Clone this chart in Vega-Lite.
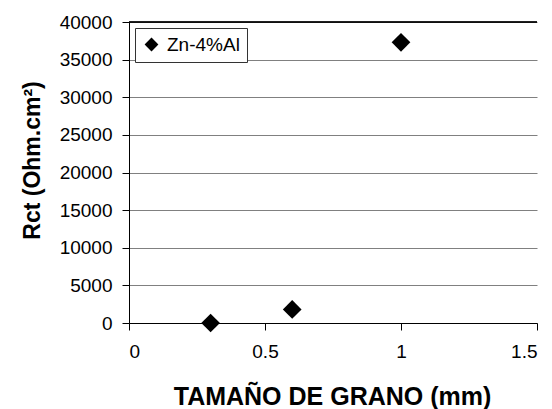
{
  "$schema": "https://vega.github.io/schema/vega-lite/v6.json",
  "width": 408,
  "height": 301,
  "autosize": {"type": "none"},
  "padding": {"left": 129, "top": 22, "right": 15, "bottom": 86},
  "background": "white",
  "config": {
    "view": {"stroke": null},
    "font": "Liberation Sans",
    "axisY": {
      "values": [0, 5000, 10000, 15000, 20000, 25000, 30000, 35000, 40000],
      "labelOverlap": false,
      "format": "d",
      "grid": true,
      "gridColor": "#808080",
      "gridWidth": 1,
      "domainColor": "black",
      "tickColor": "black",
      "tickSize": 7,
      "labelFontSize": 19,
      "labelColor": "black",
      "labelPadding": 10,
      "titleFontSize": 23,
      "titleFontWeight": "bold",
      "titleColor": "black",
      "titleX": -97,
      "titleY": 138,
      "titleAlign": "center",
      "titleBaseline": "middle"
    }
  },
  "data": {
    "values": [
      {"grain": 0.3, "rct": 0, "series": "Zn-4%Al"},
      {"grain": 0.6, "rct": 1800, "series": "Zn-4%Al"},
      {"grain": 1.0, "rct": 37300, "series": "Zn-4%Al"}
    ]
  },
  "layer": [
    {
      "mark": {"type": "point", "filled": true, "opacity": 1, "size": 350},
      "encoding": {
        "x": {
          "field": "grain",
          "type": "quantitative",
          "scale": {"domain": [0, 1.5], "nice": false},
          "axis": {
            "values": [0, 0.5, 1, 1.5],
            "format": "~g",
            "grid": false,
            "labelOverlap": false,
            "domainColor": "black",
            "tickColor": "black",
            "tickSize": 7,
            "labelFontSize": 19,
            "labelColor": "black",
            "labelPadding": 12,
            "title": "TAMAÑO DE GRANO (mm)",
            "titleFontSize": 25,
            "titleFontWeight": "bold",
            "titleColor": "black",
            "titleX": 203,
            "titleY": 73,
            "titleBaseline": "middle"
          }
        },
        "y": {
          "field": "rct",
          "type": "quantitative",
          "scale": {"domain": [0, 40000], "nice": false},
          "axis": {
            "values": [0, 5000, 10000, 15000, 20000, 25000, 30000, 35000, 40000],
            "labelOverlap": false,
            "title": "Rct (Ohm.cm²)"
          }
        },
        "shape": {
          "field": "series",
          "type": "nominal",
          "scale": {"range": ["diamond"]},
          "legend": {
            "title": null,
            "orient": "none",
            "legendX": 6,
            "legendY": 6,
            "labelFontSize": 19,
            "labelColor": "black",
            "symbolSize": 190,
            "symbolFillColor": "black",
            "symbolStrokeColor": "black",
            "strokeColor": "#333333",
            "fillColor": "white",
            "padding": 7,
            "labelOffset": 6
          }
        },
        "color": {"value": "black"}
      }
    },
    {
      "mark": {"type": "rule", "color": "black", "strokeWidth": 1},
      "encoding": {
        "y": {
          "datum": 40000,
          "type": "quantitative",
          "axis": {
            "values": [0, 5000, 10000, 15000, 20000, 25000, 30000, 35000, 40000],
            "labelOverlap": false,
            "title": "Rct (Ohm.cm²)"
          }
        }
      }
    }
  ]
}
